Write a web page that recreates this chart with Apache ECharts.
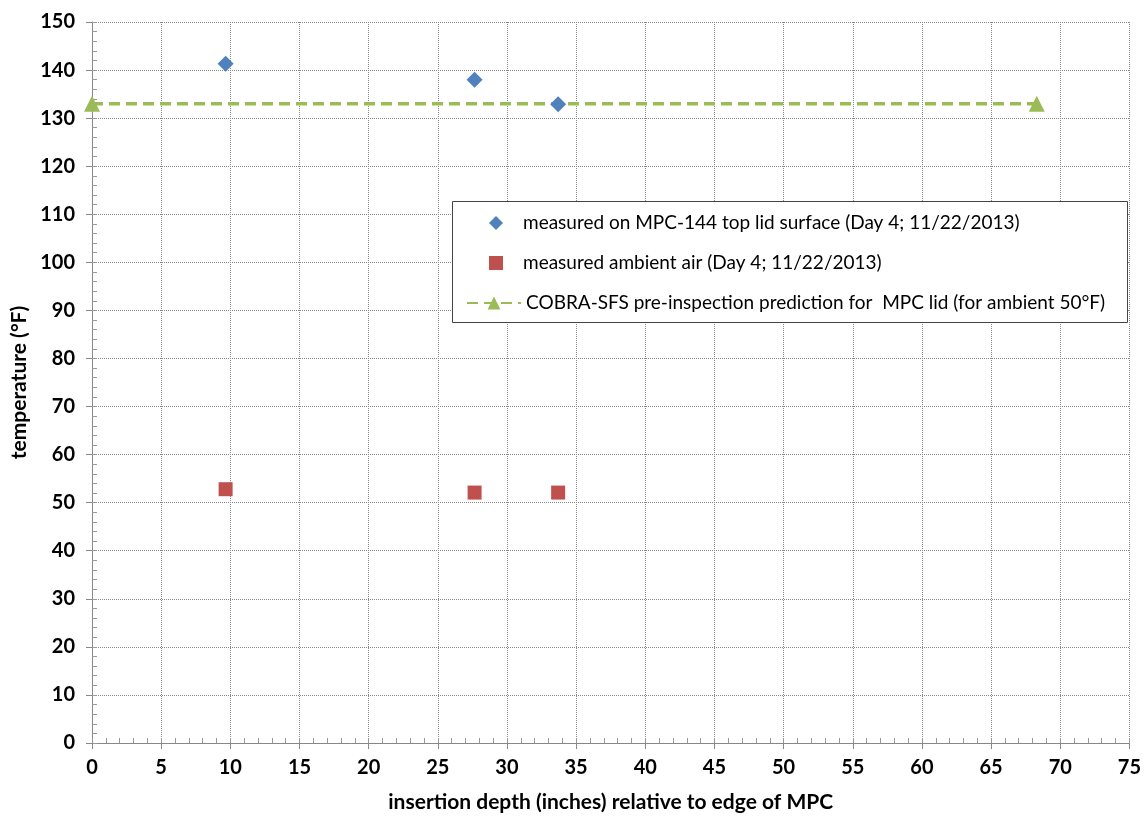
<!DOCTYPE html>
<html><head><meta charset="utf-8">
<script src="https://cdn.jsdelivr.net/npm/echarts@6/dist/echarts.min.js"></script>
<style>html,body{margin:0;padding:0;background:#fff}#c{width:1144px;height:818px}</style>
</head><body><div id="c"></div>
<script>
const lidX = [9.66, 27.66, 33.7];
const lidY = [141.3, 138.0, 132.9];
const airX = [9.66, 27.66, 33.7];
const airY = [52.8, 52.1, 52.1];
const predX = [0, 68.3];
const predY = [133, 133];
const seriesNames = [
  'measured on MPC-144 top lid surface (Day 4; 11/22/2013)',
  'measured ambient air (Day 4; 11/22/2013)',
  'COBRA-SFS pre-inspection prediction for  MPC lid (for ambient 50°F)'
];
const xTitle = 'insertion depth (inches) relative to edge of MPC';
const yTitle = 'temperature (°F)';

const zip = (a, b) => a.map((v, i) => [v, b[i]]);
const font = 'Lato, "Open Sans", sans-serif';
const legText = {fontFamily: font, fontSize: 19, color: '#000', lineHeight: 22};
const chart = echarts.init(document.getElementById('c'));
chart.setOption({
  animation: false,
  grid: {left: 92, right: 11, top: 22, bottom: 72},
  xAxis: [{
    type: 'value', min: 0, max: 75, interval: 5,
    name: xTitle, nameLocation: 'middle', nameGap: 49,
    nameTextStyle: {fontFamily: font, fontWeight: 'bold', fontSize: 21, color: '#000'},
    axisLabel: {fontFamily: font, fontWeight: 'bold', fontSize: 20, color: '#000', margin: 15},
    axisLine: {lineStyle: {color: '#888'}},
    axisTick: {show: true, inside: false, length: 6, lineStyle: {color: '#888'}},
    splitLine: {show: true, lineStyle: {type: 'dotted', color: '#888'}}
  }, {
    type: 'value', min: 0, max: 75, interval: 1, position: 'bottom',
    axisLabel: {show: false}, axisLine: {show: false},
    axisTick: {show: true, inside: true, length: 5, lineStyle: {color: '#999'}},
    splitLine: {show: false}
  }],
  yAxis: [{
    type: 'value', min: 0, max: 150, interval: 10,
    name: yTitle, nameLocation: 'middle', nameGap: 60, nameRotate: 90,
    nameTextStyle: {fontFamily: font, fontWeight: 'bold', fontSize: 21, color: '#000'},
    axisLabel: {fontFamily: font, fontWeight: 'bold', fontSize: 20, color: '#000', margin: 17},
    axisLine: {show: true, lineStyle: {color: '#888'}},
    axisTick: {show: true, inside: false, length: 6, lineStyle: {color: '#888'}},
    splitLine: {show: true, lineStyle: {type: 'dotted', color: '#888'}}
  }, {
    type: 'value', min: 0, max: 150, interval: 2, position: 'left',
    axisLabel: {show: false}, axisLine: {show: false},
    axisTick: {show: true, inside: true, length: 5, lineStyle: {color: '#999'}},
    splitLine: {show: false}
  }],
  graphic: [{
    type: 'rect', left: 452, top: 201, z: 50,
    shape: {width: 675, height: 121},
    style: {fill: '#fff', stroke: '#444', lineWidth: 1}
  }],
  legend: [{
    left: 489, top: 212, padding: 0, z: 60, selectedMode: false,
    itemWidth: 14, itemHeight: 14, textStyle: Object.assign({padding: [0, 0, 0, 15]}, legText),
    data: [{name: seriesNames[0], icon: 'diamond'}]
  }, {
    left: 489, top: 252, padding: 0, z: 60, selectedMode: false,
    itemWidth: 14, itemHeight: 14, textStyle: Object.assign({padding: [0, 0, 0, 15]}, legText),
    data: [{name: seriesNames[1], icon: 'rect'}]
  }, {
    left: 466, top: 292, padding: 0, z: 60, selectedMode: false,
    itemWidth: 54, itemHeight: 16, textStyle: Object.assign({padding: [0, 0, 0, 0]}, legText),
    data: [{name: seriesNames[2]}]
  }],
  series: [{
    name: seriesNames[0], type: 'scatter', symbol: 'diamond', symbolSize: 16,
    itemStyle: {color: '#4F81BD', opacity: 1}, data: zip(lidX, lidY), z: 5
  }, {
    name: seriesNames[1], type: 'scatter', symbol: 'rect', symbolSize: 14,
    itemStyle: {color: '#C0504D', opacity: 1}, data: zip(airX, airY), z: 5
  }, {
    name: seriesNames[2], type: 'line', symbol: 'triangle', symbolSize: 16,
    lineStyle: {color: '#9BBB59', width: 3.5, type: [11, 6]},
    itemStyle: {color: '#9BBB59'}, data: zip(predX, predY), z: 4
  }]
});
</script></body></html>
